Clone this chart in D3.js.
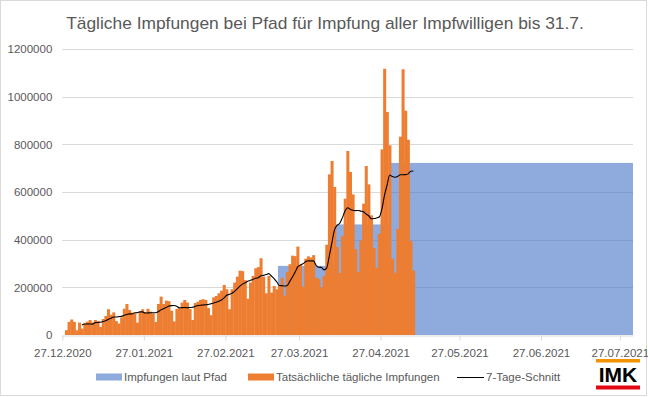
<!DOCTYPE html>
<html>
<head>
<meta charset="utf-8">
<script src="https://cdn.jsdelivr.net/npm/d3@7"></script>
<style>
 body { margin: 0; background: #fff; }
 svg text { font-family: "Liberation Sans", Arial, sans-serif; fill: #595959; }
</style>
</head>
<body>
<div id="chart"></div>
<script>
// daily doses from 28.12.2020 to 09.05.2021
const firstDay = "2020-12-28";
const daily = [
 20000, 55000, 65000, 55000, 20000, 52000, 27000,
 49000, 56000, 63000, 53000, 63000, 58000, 34000,
 67000, 80000, 108000, 85000, 95000, 58000, 48000,
 74000, 110000, 130000, 105000, 94000, 91000, 52000,
 98000, 108000, 96000, 110000, 98000, 88000, 55000,
 130000, 161000, 130000, 144000, 142000, 102000, 57000,
 110000, 112000, 136000, 147000, 136000, 109000, 63000,
 134000, 140000, 147000, 150000, 147000, 113000, 83000,
 158000, 164000, 175000, 186000, 210000, 192000, 108000,
 192000, 220000, 245000, 270000, 268000, 230000, 152000,
 220000, 248000, 280000, 285000, 322000, 245000, 175000,
 248000, 178000, 206000, 192000, 210000, 240000, 165000,
 264000, 297000, 333000, 331000, 371000, 294000, 203000,
 320000, 330000, 325000, 335000, 240000, 235000, 200000,
 248000, 379000, 674000, 730000, 621000, 369000, 260000,
 415000, 572000, 772000, 684000, 590000, 360000, 264000,
 397000, 551000, 709000, 632000, 502000, 365000, 282000,
 424000, 779000, 1117000, 936000, 796000, 320000, 261000,
 445000, 832000, 1115000, 941000, 819000, 394000, 270000
];

// vaccination path: level from each start date until the next one
const planStarts = ["2021-03-19", "2021-04-10", "2021-05-01"];
const planLevels = [290000, 464000, 722000];
const planEnd = "2021-08-01";

const axisStart = "2020-12-27";
const xTicks = ["2020-12-27", "2021-01-27", "2021-02-27", "2021-03-27",
 "2021-04-27", "2021-05-27", "2021-06-27", "2021-07-27"];
const yTicks = [0, 200000, 400000, 600000, 800000, 1000000, 1200000];

const seriesNames = ["Impfungen laut Pfad", "Tatsächliche tägliche Impfungen", "7-Tage-Schnitt"];
const title = "Tägliche Impfungen bei Pfad für Impfung aller Impfwilligen bis 31.7.";

const W = 648, H = 397;
const plot = { left: 62.3, right: 633, top: 49, bottom: 335 };
const blue = "#4472C4", orange = "#ED7D31", grid = "#D9D9D9";

const parse = d3.timeParse("%Y-%m-%d");
const fmt = d3.timeFormat("%d.%m.%Y");

const x = d3.scaleTime()
 .domain([parse(axisStart), parse(planEnd)])
 .range([plot.left, plot.right]);
const y = d3.scaleLinear()
 .domain([0, 1200000])
 .range([plot.bottom, plot.top]);

const days = daily.map((v, i) => ({ date: d3.timeDay.offset(parse(firstDay), i), value: v }));

// 7-day trailing mean of the daily values
const avg = days.slice(6).map((d, k) => ({
 date: d.date,
 value: d3.mean(daily.slice(k, k + 7))
}));

const plan = planStarts.map((s, i) => ({
 start: parse(s),
 end: parse(i + 1 < planStarts.length ? planStarts[i + 1] : planEnd),
 value: planLevels[i]
}));

const svg = d3.select("#chart").append("svg")
 .attr("width", W)
 .attr("height", H);

svg.append("rect")
 .attr("x", 0.5).attr("y", 0.5)
 .attr("width", W - 2).attr("height", H - 2)
 .attr("fill", "#fff")
 .attr("stroke", grid);

// gridlines
svg.append("g")
 .selectAll("line")
 .data(yTicks.slice(1))
 .enter()
 .append("line")
 .attr("x1", plot.left).attr("x2", plot.right)
 .attr("y1", (d) => Math.round(y(d)) + 0.5)
 .attr("y2", (d) => Math.round(y(d)) + 0.5)
 .attr("stroke", grid);

// path (semi transparent blue)
svg.append("g")
 .selectAll("rect")
 .data(plan)
 .enter()
 .append("rect")
 .attr("x", (d) => x(d.start))
 .attr("width", (d) => x(d.end) - x(d.start))
 .attr("y", (d) => y(d.value))
 .attr("height", (d) => y(0) - y(d.value))
 .attr("fill", blue)
 .attr("fill-opacity", 0.6);

// daily bars
svg.append("g")
 .selectAll("rect")
 .data(days)
 .enter()
 .append("rect")
 .attr("x", (d) => x(d.date))
 .attr("width", (d) => x(d3.timeDay.offset(d.date, 1)) - x(d.date) + 0.4)
 .attr("y", (d) => y(d.value))
 .attr("height", (d) => y(0) - y(d.value))
 .attr("fill", orange);

// 7-day mean
const halfDay = (d) => x(d) + (x(d3.timeDay.offset(d, 1)) - x(d)) / 2;
svg.append("path")
 .datum(avg)
 .attr("fill", "none")
 .attr("stroke", "#000")
 .attr("stroke-width", 1.1)
 .attr("d", d3.line()
  .x((d) => halfDay(d.date))
  .y((d) => y(d.value))
  .curve(d3.curveMonotoneX));

// x axis
const xAxis = svg.append("g")
 .attr("transform", `translate(0,${plot.bottom + 0.5})`)
 .call(d3.axisBottom(x)
  .tickValues(xTicks.map(parse))
  .tickFormat(fmt)
  .tickSize(5)
  .tickSizeOuter(0)
  .tickPadding(8));
xAxis.select(".domain").attr("stroke", grid);
xAxis.selectAll(".tick line").attr("stroke", grid);
xAxis.selectAll(".tick text")
 .attr("fill", "#595959")
 .style("font-size", "11.5px");

// y axis labels
const yAxis = svg.append("g")
 .attr("transform", `translate(${plot.left},0)`)
 .call(d3.axisLeft(y)
  .tickValues(yTicks)
  .tickFormat(d3.format("d"))
  .tickSize(0)
  .tickPadding(10));
yAxis.select(".domain").remove();
yAxis.selectAll(".tick text")
 .attr("fill", "#595959")
 .style("font-size", "11.5px");

// title, sized to the width it has in the picture
const t = svg.append("text")
 .attr("x", W / 2 + 1)
 .attr("y", 29)
 .attr("text-anchor", "middle")
 .style("font-size", "18px")
 .text(title);
const tw = t.node().getComputedTextLength();
t.style("font-size", (18 * 518 / tw).toFixed(2) + "px");

// legend
const legend = svg.append("g").attr("transform", "translate(0,377)");
const items = [
 { x: 96, w: 26, kind: "rect", color: blue, op: 0.6 },
 { x: 248, w: 26, kind: "rect", color: orange, op: 1 },
 { x: 457, w: 27, kind: "line", color: "#000", op: 1 }
];
items.forEach((it, i) => {
 if (it.kind === "rect") {
  legend.append("rect")
   .attr("x", it.x).attr("y", -3.5)
   .attr("width", it.w).attr("height", 7)
   .attr("fill", it.color)
   .attr("fill-opacity", it.op);
 } else {
  legend.append("line")
   .attr("x1", it.x).attr("x2", it.x + it.w)
   .attr("y1", 0.5).attr("y2", 0.5)
   .attr("stroke", it.color);
 }
 legend.append("text")
  .attr("x", it.x + it.w + 2)
  .attr("y", 4)
  .style("font-size", "11.5px")
  .text(seriesNames[i]);
});

// IMK logo
const logo = svg.append("g").attr("transform", "translate(596,359)");
logo.append("rect").attr("width", 44).attr("height", 3.5).attr("fill", "#F39200");
logo.append("text")
 .attr("x", 22).attr("y", 23)
 .attr("text-anchor", "middle")
 .style("font-size", "21px")
 .style("font-weight", "bold")
 .style("fill", "#000")
 .text("IMK");
logo.append("rect").attr("y", 26.5).attr("width", 44).attr("height", 4).attr("fill", "#E30613");
</script>
</body>
</html>
